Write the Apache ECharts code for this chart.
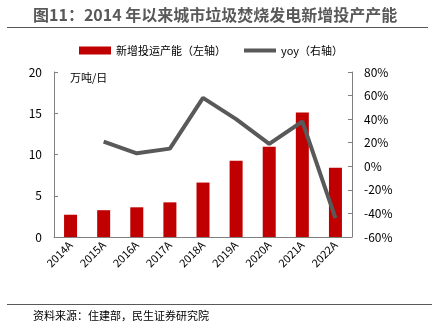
<!DOCTYPE html>
<html><head><meta charset="utf-8">
<script src="https://cdn.jsdelivr.net/npm/echarts@6/dist/echarts.min.js"></script>
<style>html,body{margin:0;padding:0;background:#fff}#c{width:432px;height:332px}</style>
</head><body><div id="c"></div>
<script>
const categories = ['2014A','2015A','2016A','2017A','2018A','2019A','2020A','2021A','2022A'];
const capacity = [2.7, 3.25, 3.6, 4.2, 6.6, 9.25, 10.95, 15.1, 8.4];
const yoy = [null, 21, 11, 15, 58, 40, 19, 38, -44];
const leftTicks = [0, 20, 5];
const rightTicks = [-60, 80, 20];
const F = '"Noto Sans CJK SC", sans-serif';
const chart = echarts.init(document.getElementById('c'), null, {renderer:'canvas'});
chart.setOption({
  animation:false,
  textStyle:{fontFamily:F},
  graphic:[
    {type:'text', left:33, top:7, style:{text:'图11：2014 年以来城市垃圾焚烧发电新增投产产能', fontFamily:F, fontSize:16, fontWeight:'bold', fill:'#595959'}},
    {type:'line', shape:{x1:7,y1:27.5,x2:428,y2:27.5}, style:{stroke:'#595959', lineWidth:1}},
    {type:'line', shape:{x1:7,y1:304.5,x2:432,y2:304.5}, style:{stroke:'#595959', lineWidth:1}},
    {type:'text', left:33, top:310, style:{text:'资料来源：住建部，民生证券研究院', fontFamily:F, fontSize:11, fill:'#000'}},
    {type:'text', left:70, top:72, style:{text:'万吨/日', fontFamily:F, fontSize:11, fill:'#000'}}
  ],
  legend:{top:45, left:79, padding:0, itemGap:18, itemWidth:32, itemHeight:8, textStyle:{fontFamily:F, fontSize:11, color:'#000'},
    data:[{name:'新增投运产能（左轴）', icon:'rect'},
          {name:'yoy（右轴）', icon:'path://M0,0 L32,0 L32,4 L0,4 Z', itemStyle:{color:'#595959'}}]},
  grid:{left:54, right:80, top:72, bottom:95},
  xAxis:{type:'category', data:categories, boundaryGap:true,
    axisLine:{lineStyle:{color:'#808080'}}, axisTick:{inside:true, length:4, lineStyle:{color:'#808080'}},
    axisLabel:{rotate:45, color:'#000', fontSize:11, fontFamily:F, margin:6}},
  yAxis:[
    {type:'value', min:leftTicks[0], max:leftTicks[1], interval:leftTicks[2], splitLine:{show:false},
     axisLine:{show:true, lineStyle:{color:'#808080'}}, axisTick:{show:true, inside:true, length:4, lineStyle:{color:'#808080'}},
     axisLabel:{color:'#000', fontSize:12, fontFamily:F, margin:12}},
    {type:'value', min:rightTicks[0], max:rightTicks[1], interval:rightTicks[2], splitLine:{show:false},
     axisLine:{show:true, lineStyle:{color:'#808080'}}, axisTick:{show:true, inside:true, length:4, lineStyle:{color:'#808080'}},
     axisLabel:{color:'#000', fontSize:12, fontFamily:F, margin:12, formatter:'{value}%'}}
  ],
  series:[
    {name:'新增投运产能（左轴）', type:'bar', data:capacity, barWidth:13, itemStyle:{color:'#C00000'}},
    {name:'yoy（右轴）', type:'line', yAxisIndex:1, data:yoy, symbol:'none', lineStyle:{color:'#595959', width:4}, itemStyle:{color:'#595959'}}
  ]
});
</script></body></html>
